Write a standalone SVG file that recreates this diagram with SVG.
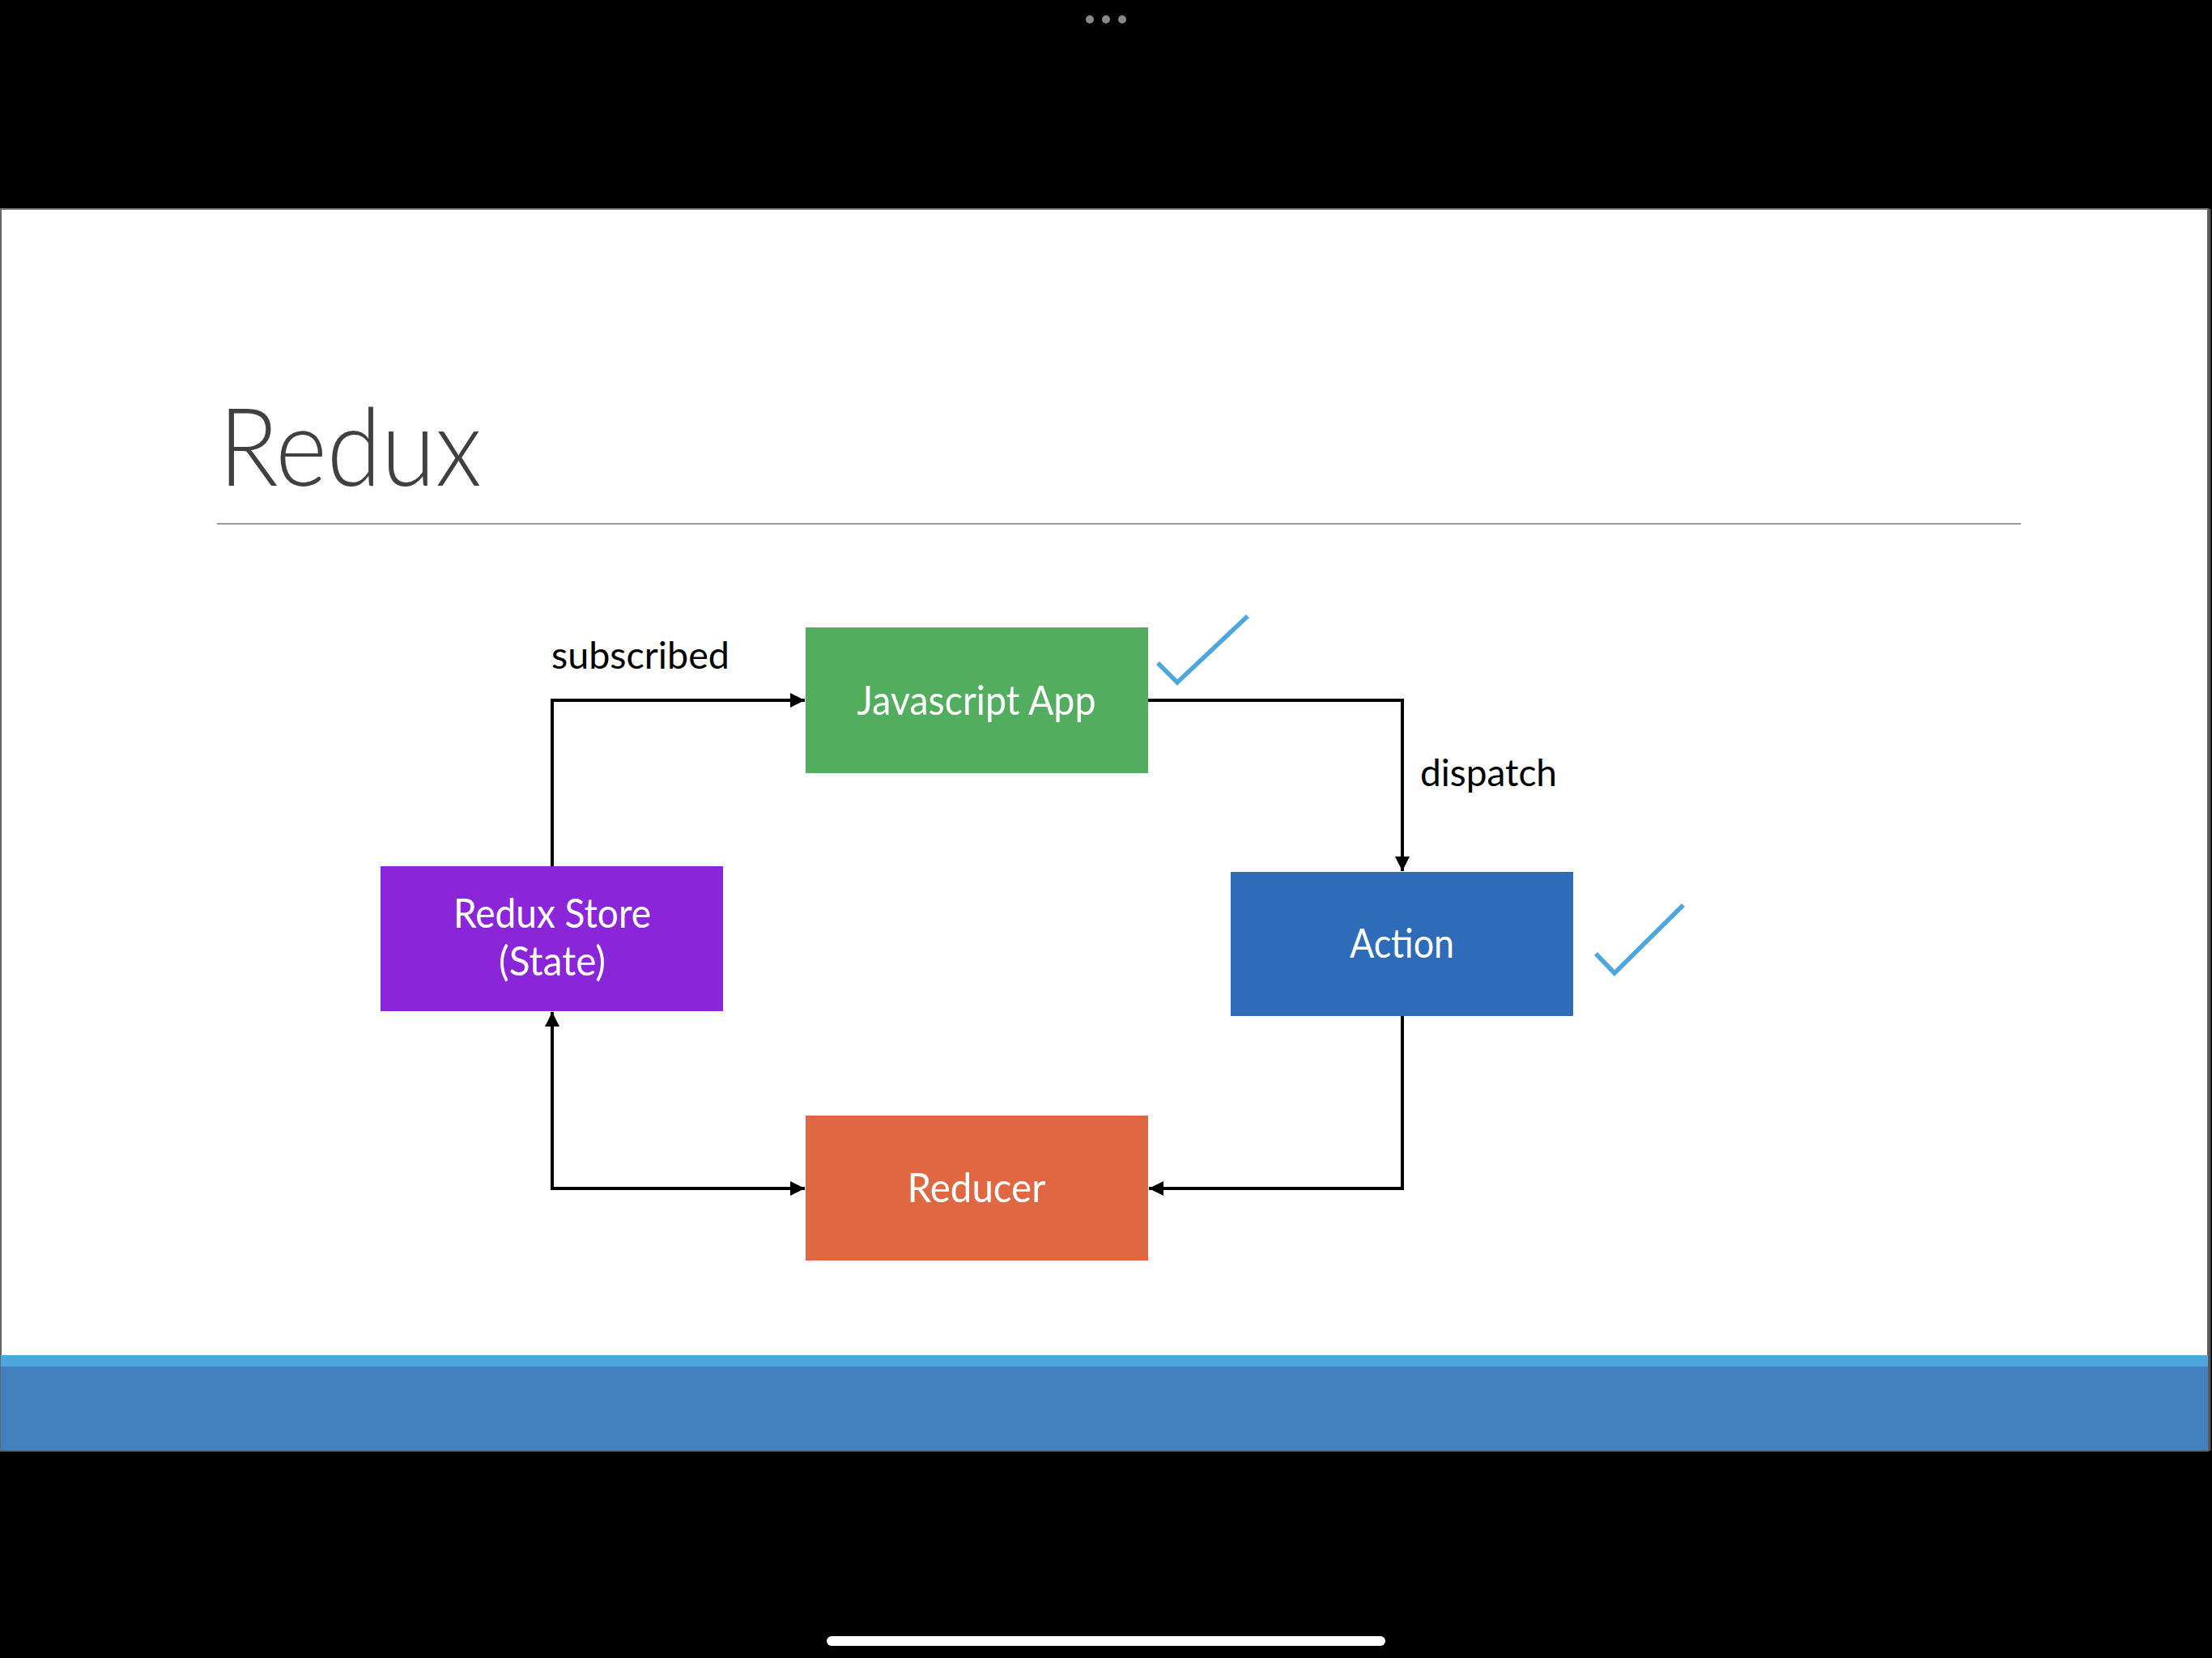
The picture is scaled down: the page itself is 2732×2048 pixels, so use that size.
<svg xmlns="http://www.w3.org/2000/svg" width="2732" height="2048" viewBox="0 0 2732 2048">
<defs>
<style>
.lbl{font-family:Lato,"Open Sans","Liberation Sans",sans-serif;font-size:46px;fill:#000}
.ntx{font-family:Lato,"Open Sans","Liberation Sans",sans-serif;font-size:50px;fill:#fff;text-anchor:middle}
.conn{fill:none;stroke:#000;stroke-width:4}
.chk{fill:none;stroke:#4BA7DD;stroke-width:5.5;stroke-linejoin:miter}
</style>
<marker id="arr" markerUnits="userSpaceOnUse" markerWidth="18" markerHeight="18" refX="17" refY="8.5" orient="auto-start-reverse" viewBox="0 0 17 17">
<path d="M0,0 L17,8.5 L0,17 z" fill="#000"/>
</marker>
</defs>
<rect x="0" y="0" width="2732" height="2048" fill="#000"/>
<g id="ui">
<circle cx="1346" cy="24" r="5" fill="#8a8a8a"/>
<circle cx="1366" cy="24" r="5" fill="#8a8a8a"/>
<circle cx="1386" cy="24" r="5" fill="#8a8a8a"/>
<rect x="1021" y="2021" width="690" height="12" rx="6" fill="#fff"/>
</g>
<g id="slide">
<rect x="1" y="258" width="2726" height="1534" fill="#fff" stroke="#666" stroke-width="2"/>
<rect x="1" y="1674" width="2726" height="14" fill="#4DA6E0"/>
<rect x="1" y="1688" width="2726" height="103" fill="#4280BF"/>
<line x1="2729" y1="258" x2="2729" y2="1792" stroke="#555" stroke-width="3"/>
<text id="title" x="270" y="600" font-family="Lato,'Open Sans','Liberation Sans',sans-serif" font-weight="300" font-size="135" fill="#404040" textLength="325" lengthAdjust="spacingAndGlyphs">Redux</text>
<line x1="268" y1="647" x2="2496" y2="647" stroke="#9a9a9a" stroke-width="2"/>
</g>
<g id="connectors">
<path class="conn" d="M682,1070 V865 H994" marker-end="url(#arr)"/>
<path class="conn" d="M1418,865 H1732 V1076" marker-end="url(#arr)"/>
<path class="conn" d="M1732,1255 V1468 H1419" marker-end="url(#arr)"/>
<path class="conn" d="M682,1250 V1468 H994" marker-start="url(#arr)" marker-end="url(#arr)"/>
<text class="lbl" x="681" y="826" textLength="220" lengthAdjust="spacingAndGlyphs">subscribed</text>
<text class="lbl" x="1754" y="971" textLength="169" lengthAdjust="spacingAndGlyphs">dispatch</text>
</g>
<g id="node-app">
<rect x="995" y="775" width="423" height="180" fill="#52AE5E"/>
<text class="ntx" x="1206" y="883" textLength="295" lengthAdjust="spacingAndGlyphs">Javascript App</text>
</g>
<g id="node-action">
<rect x="1520" y="1077" width="423" height="178" fill="#2E6BB8"/>
<text class="ntx" x="1731.5" y="1183" textLength="129" lengthAdjust="spacingAndGlyphs">Action</text>
</g>
<g id="node-store">
<rect x="470" y="1070" width="423" height="179" fill="#8A25D9"/>
<text class="ntx" x="682" y="1146" textLength="244" lengthAdjust="spacingAndGlyphs">Redux Store</text>
<text class="ntx" x="682" y="1205" textLength="132" lengthAdjust="spacingAndGlyphs">(State)</text>
</g>
<g id="node-reducer">
<rect x="995" y="1378" width="423" height="179" fill="#DF6842"/>
<text class="ntx" x="1206" y="1485" textLength="171" lengthAdjust="spacingAndGlyphs">Reducer</text>
</g>
<g id="checks">
<polyline class="chk" points="1430,819 1454,843 1541,761"/>
<polyline class="chk" points="1971,1178 1994,1202 2079,1118"/>
</g>
</svg>
